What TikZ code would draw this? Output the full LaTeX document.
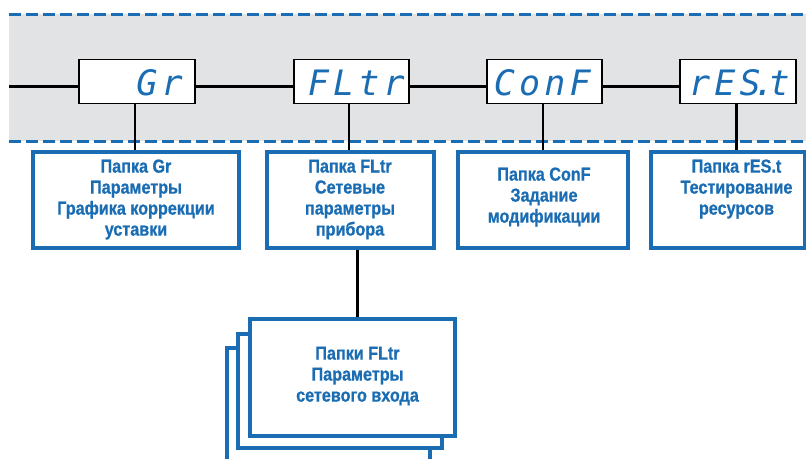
\documentclass[tikz,border=0pt]{standalone}
\usepackage{fontspec}
\setmainfont{Liberation Sans}
\newfontfamily\lblfont{Liberation Sans}[UprightFont=* Bold, BoldFont=* Bold, FakeStretch=0.86, FakeBold=0.8]
\newfontfamily\segfont{DejaVu Sans Mono}[UprightFont=* Oblique, LetterSpace=12]
\definecolor{owenblue}{HTML}{1A6DB3}
\definecolor{bandgray}{HTML}{E2E3E5}
\tikzset{
  x=1pt, y=-1pt,
  banddash/.style={draw=owenblue, line width=3pt, dash pattern=on 12pt off 5pt},
  disp/.style={draw=black, line width=1.8pt, fill=white, minimum height=44pt, inner sep=0pt},
  segtxt/.style={text=owenblue, font=\segfont\fontsize{35}{35}\selectfont, inner sep=0pt, anchor=base east},
  infobox/.style={draw=owenblue, line width=3.2pt, fill=white, minimum height=96pt, inner sep=0pt},
  lbl/.style={text=owenblue, align=center, font=\lblfont\fontsize{18.8}{21}\selectfont, inner sep=0pt},
  conn/.style={draw=black, line width=2.4pt},
}
\begin{document}
\begin{tikzpicture}
\clip (0,0) rectangle (806,458);
% band
\fill[bandgray] (9,14) rectangle (806,141);
\draw[banddash] (9,14) -- (806,14);
\draw[banddash] (9,141) -- (806,141);
\coordinate (start) at (9,86.5);
% display boxes
\node[disp, minimum width=116pt] (gr) at (137,81.5) {};
\node[disp, minimum width=115pt] (fl) at (351.5,81.5) {};
\node[disp, minimum width=115pt] (cf) at (544.5,81.5) {};
\node[disp, minimum width=116pt] (rs) at (738,81.5) {};
\node[segtxt] (grt) at (183,95) {Gr};
\node[segtxt] (flt) at (405,95) {FLtr};
\node[segtxt] (cft) at (591,95) {ConF};
\node[segtxt] (rst) at (790,95) {rES\kern-7pt.\kern-6pt t};
% main line
\draw[conn] (start) -- (gr.west |- start);
\draw[conn] (gr.east |- start) -- (fl.west |- start);
\draw[conn] (fl.east |- start) -- (cf.west |- start);
\draw[conn] (cf.east |- start) -- (rs.west |- start);
% info boxes
\node[infobox, minimum width=206pt] (grinfo) at (136,200) {};
\node[infobox, minimum width=167pt] (flinfo) at (350.5,200) {};
\node[infobox, minimum width=170pt] (cfinfo) at (543,200) {};
\node[infobox, minimum width=154pt] (rsinfo) at (728,200) {};
\node[lbl] (grlab) at (136,199.5) {Папка Gr\\Параметры\\Графика коррекции\\уставки};
\node[lbl] (fllab) at (350,199.5) {Папка FLtr\\Сетевые\\параметры\\прибора};
\node[lbl] (cflab) at (544,197) {Папка ConF\\Задание\\модификации};
\node[lbl] (rslab) at (736.5,189) {Папка rES.t\\Тестирование\\ресурсов};
% stems
\draw[conn] (gr.south -| grlab.center) ++(-1,0) coordinate (g1) -- (g1 |- grinfo.north);
\draw[conn] (fl.south -| flinfo.center) ++(-1.5,0) coordinate (f1) -- (f1 |- flinfo.north);
\draw[conn] (cf.south -| cfinfo.center) -- (cfinfo.north);
\draw[conn] (rs.south -| rslab.center) -- (rslab.center |- rsinfo.north);
% stack
\node[infobox, minimum width=203pt, minimum height=116pt] (back) at (328.5,406) {};
\node[infobox, minimum width=204pt, minimum height=114pt] (mid) at (340,391) {};
\node[infobox, minimum width=205pt, minimum height=117pt] (front) at (352.5,377.5) {};
\node[lbl] (stlab) at (357.5,376) {Папки FLtr\\Параметры\\сетевого входа};
\draw[conn] (flinfo.south -| stlab.center) -- (stlab.center |- front.north);
\end{tikzpicture}
\end{document}
